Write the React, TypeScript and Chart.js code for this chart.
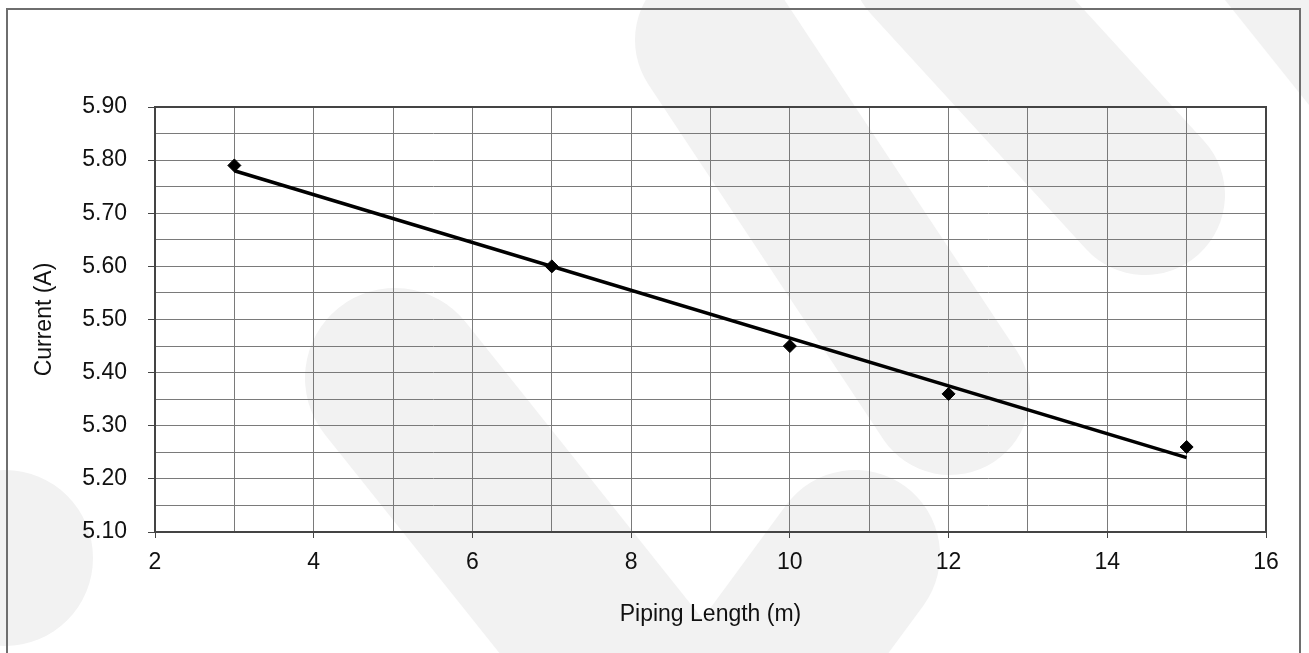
import React, { useEffect, useRef } from "react";
import { Chart, registerables } from "chart.js";

Chart.register(...registerables);

// Measured points
const pipingLength = [3, 7, 10, 12, 15];
const currentA = [5.79, 5.6, 5.45, 5.36, 5.26];

// Linear trendline endpoints
const trendX = [3, 15];
const trendY = [5.78, 5.24];

const xTitle = "Piping Length (m)";
const yTitle = "Current (A)";

const FONT = "'Liberation Sans', Arial, Helvetica, sans-serif";

const isMajorY = (v: number) => Math.round(v * 100) % 10 === 0;
const isMajorX = (v: number) => Math.round(v) % 2 === 0;

const watermarkPlugin = {
  id: "watermark",
  beforeDraw(chart: any) {
    const ctx = chart.ctx as CanvasRenderingContext2D;
    ctx.save();
    ctx.fillStyle = "#ffffff";
    ctx.fillRect(0, 0, chart.width, chart.height);
    ctx.strokeStyle = "#f2f2f2";
    ctx.fillStyle = "#f2f2f2";
    ctx.lineCap = "round";
    ctx.lineJoin = "round";
    const band = (pts: number[][], w: number) => {
      ctx.lineWidth = w;
      ctx.beginPath();
      ctx.moveTo(pts[0][0], pts[0][1]);
      for (let i = 1; i < pts.length; i++) ctx.lineTo(pts[i][0], pts[i][1]);
      ctx.stroke();
    };
    band([[395, 378], [700, 760]], 180);
    band([[855, 555], [660, 820]], 170);
    band([[715, 40], [950, 395]], 160);
    band([[930, -40], [1145, 195]], 160);
    ctx.beginPath();
    ctx.moveTo(1225, 0);
    ctx.lineTo(1309, 0);
    ctx.lineTo(1309, 105);
    ctx.closePath();
    ctx.fill();
    ctx.beginPath();
    ctx.arc(5, 558, 88, 0, Math.PI * 2);
    ctx.fill();
    ctx.restore();
  },
  beforeDatasetsDraw(chart: any) {
    const ctx = chart.ctx as CanvasRenderingContext2D;
    const a = chart.chartArea;
    ctx.save();
    ctx.strokeStyle = "#444444";
    ctx.lineWidth = 2;
    ctx.strokeRect(a.left, a.top, a.right - a.left, a.bottom - a.top);
    ctx.restore();
  },
  afterDraw(chart: any) {
    const ctx = chart.ctx as CanvasRenderingContext2D;
    ctx.save();
    ctx.strokeStyle = "#6e6e6e";
    ctx.lineWidth = 2;
    ctx.beginPath();
    ctx.moveTo(7, 700);
    ctx.lineTo(7, 9);
    ctx.lineTo(1300, 9);
    ctx.lineTo(1300, 700);
    ctx.stroke();
    ctx.restore();
  },
};

export default function App() {
  const ref = useRef<HTMLCanvasElement | null>(null);

  useEffect(() => {
    if (!ref.current) return;
    const chart = new Chart(ref.current, {
      type: "scatter",
      data: {
        datasets: [
          {
            label: "Trend",
            data: trendX.map((x, i) => ({ x, y: trendY[i] })),
            showLine: true,
            borderColor: "#000000",
            borderWidth: 3.5,
            pointRadius: 0,
            fill: false,
          },
          {
            label: "Current",
            data: pipingLength.map((x, i) => ({ x, y: currentA[i] })),
            showLine: false,
            pointStyle: "rectRot",
            pointRadius: 6.5,
            backgroundColor: "#000000",
            borderColor: "#000000",
            borderWidth: 1,
          },
        ],
      },
      options: {
        responsive: false,
        animation: false,
        layout: { padding: { top: 107, right: 43, left: 0, bottom: 0 } },
        plugins: {
          legend: { display: false },
          tooltip: { enabled: false },
        },
        scales: {
          x: {
            type: "linear",
            min: 2,
            max: 16,
            afterFit(scale: any) {
              scale.height = 121;
            },
            ticks: {
              stepSize: 1,
              autoSkip: false,
              maxRotation: 0,
              padding: 11,
              color: "#111111",
              font: { family: FONT, size: 23 },
              callback: (v: any) => (isMajorX(Number(v)) ? String(v) : ""),
            },
            grid: {
              color: "#7a7a7a",
              lineWidth: 1,
              tickLength: 6,
              tickColor: (c: any) =>
                c.tick && isMajorX(c.tick.value) ? "#444444" : "rgba(0,0,0,0)",
            },
            border: { display: true, color: "#444444", width: 2 },
            title: {
              display: true,
              text: xTitle,
              color: "#111111",
              font: { family: FONT, size: 23 },
              padding: { top: 0, bottom: 25 },
            },
          },
          y: {
            type: "linear",
            min: 5.1,
            max: 5.9,
            afterFit(scale: any) {
              scale.width = 155;
            },
            ticks: {
              stepSize: 0.05,
              autoSkip: false,
              padding: 21,
              color: "#111111",
              font: { family: FONT, size: 23 },
              callback: (v: any) =>
                isMajorY(Number(v)) ? Number(v).toFixed(2) : "",
            },
            grid: {
              color: "#7a7a7a",
              lineWidth: 1,
              tickLength: 7,
              tickColor: (c: any) =>
                c.tick && isMajorY(c.tick.value) ? "#444444" : "rgba(0,0,0,0)",
            },
            border: { display: true, color: "#444444", width: 2 },
            title: {
              display: true,
              text: yTitle,
              color: "#111111",
              font: { family: FONT, size: 23 },
              padding: { top: 31, bottom: 0 },
            },
          },
        },
      },
      plugins: [watermarkPlugin],
    });
    return () => chart.destroy();
  }, []);

  return (
    <div style={{ position: "absolute", left: 0, top: 0, width: 1309, height: 653 }}>
      <canvas ref={ref} width={1309} height={653} style={{ width: 1309, height: 653, display: "block" }} />
    </div>
  );
}
